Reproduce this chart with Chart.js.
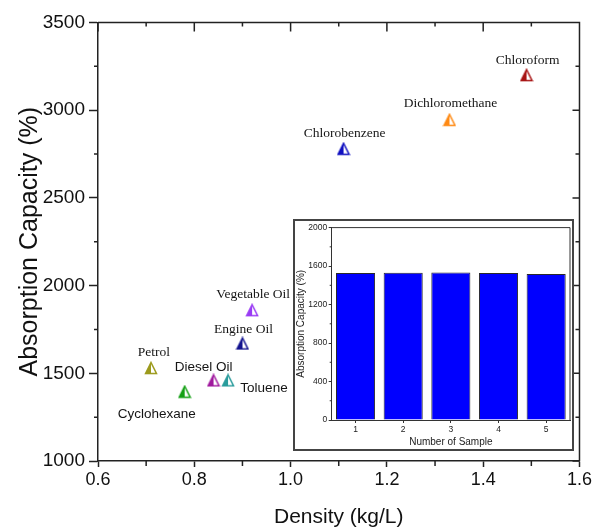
<!DOCTYPE html>
<html>
<head>
<meta charset="utf-8">
<title>Absorption capacity vs density</title>
<script src="https://cdn.jsdelivr.net/npm/chart.js@4.4.1/dist/chart.umd.min.js"></script>
<style>
  html, body { margin: 0; padding: 0; background: #fff; }
  #wrap { position: relative; width: 594px; height: 532px; }
  #mainChart { position: absolute; left: 0; top: 0; }
  #insetBox {
    position: absolute; left: 293px; top: 219px; width: 281px; height: 232px;
    box-sizing: border-box; border: 2px solid #444; background: #fff;
  }
  #insetChart { display: block; }
</style>
</head>
<body>
<div id="wrap">
  <canvas id="mainChart" width="594" height="532"></canvas>
  <div id="insetBox"><canvas id="insetChart" width="277" height="228"></canvas></div>
</div>
<script>
// Main plot data
const solvents = ['Petrol', 'Cyclohexane', 'Diesel Oil', 'Toluene', 'Engine Oil',
  'Vegetable Oil', 'Chlorobenzene', 'Dichloromethane', 'Chloroform'];
const density = [0.71, 0.78, 0.84, 0.87, 0.90, 0.92, 1.11, 1.33, 1.49];
const absorption = [1530, 1395, 1460, 1460, 1670, 1860, 2780, 2945, 3200];

const xTicks = [0.6, 0.8, 1.0, 1.2, 1.4, 1.6];
const xMinorTicks = [0.7, 0.9, 1.1, 1.3, 1.5];
const yTicks = [1000, 1500, 2000, 2500, 3000, 3500];
const yMinorTicks = [1250, 1750, 2250, 2750, 3250];

// Inset data
const samples = ['1', '2', '3', '4', '5'];
const sampleAbsorption = [1528, 1531, 1534, 1527, 1517];
const insetYTicks = [0, 400, 800, 1200, 1600, 2000];
const insetYMinorTicks = [200, 600, 1000, 1400, 1800];

// styles
const markerColors = ['#9c9a1c', '#14a014', '#a0189e', '#2a9c9c', '#12128e',
  '#9a3cf4', '#1010c0', '#ff8a14', '#a81414'];
const SERIF = '13.5px "Times New Roman", "Liberation Serif", serif';
const SANS = '13.5px Arial, "Liberation Sans", sans-serif';
const labelFonts = [SERIF, SANS, SANS, SANS, SERIF, SERIF, SERIF, SERIF, SERIF];
const labelOffsets = [[3, -16], [-28, 23], [-10, -13], [36, 8], [1, -14],
  [1, -16], [1, -15], [1, -16], [1, -15]];

Chart.defaults.font.family = 'Arial, "Liberation Sans", sans-serif';
Chart.defaults.color = '#111';

// half filled triangle, left half solid
function halfTriangle(color) {
  const c = document.createElement('canvas');
  c.width = 14; c.height = 14;
  const g = c.getContext('2d');
  g.fillStyle = '#fff';
  g.beginPath(); g.moveTo(1.5, 12.5); g.lineTo(7, 1.5); g.lineTo(12.5, 12.5); g.closePath(); g.fill();
  g.fillStyle = color;
  g.beginPath(); g.moveTo(1.5, 12.5); g.lineTo(7, 1.5); g.lineTo(7, 12.5); g.closePath(); g.fill();
  g.strokeStyle = color; g.lineWidth = 1.5;
  g.beginPath(); g.moveTo(1.5, 12.5); g.lineTo(7, 1.5); g.lineTo(12.5, 12.5); g.closePath(); g.stroke();
  return c;
}
const markerImages = markerColors.map(halfTriangle);

// top/right axis lines plus minor ticks
const axisFrame = {
  id: 'axisFrame',
  afterDraw(chart) {
    const { ctx, chartArea: a, scales: { x, y } } = chart;
    ctx.save();
    ctx.strokeStyle = '#222';
    ctx.lineWidth = 1.5;
    ctx.beginPath();
    ctx.moveTo(a.left, a.top); ctx.lineTo(a.right, a.top); ctx.lineTo(a.right, a.bottom);
    xTicks.forEach(v => {
      const px = x.getPixelForValue(v);
      ctx.moveTo(px, a.top); ctx.lineTo(px, a.top + 9);
    });
    xMinorTicks.forEach(v => {
      const px = x.getPixelForValue(v);
      ctx.moveTo(px, a.top); ctx.lineTo(px, a.top + 4);
      ctx.moveTo(px, a.bottom); ctx.lineTo(px, a.bottom + 5);
    });
    yTicks.forEach(v => {
      const py = y.getPixelForValue(v);
      ctx.moveTo(a.right, py); ctx.lineTo(a.right - 7, py);
    });
    yMinorTicks.forEach(v => {
      const py = y.getPixelForValue(v);
      ctx.moveTo(a.right, py); ctx.lineTo(a.right - 4, py);
      ctx.moveTo(a.left, py); ctx.lineTo(a.left - 4, py);
    });
    ctx.stroke();
    ctx.restore();
  }
};

const pointLabels = {
  id: 'pointLabels',
  afterDatasetsDraw(chart) {
    const { ctx } = chart;
    const pts = chart.getDatasetMeta(0).data;
    ctx.save();
    ctx.fillStyle = '#151515';
    ctx.textAlign = 'center';
    ctx.textBaseline = 'middle';
    pts.forEach((p, i) => {
      ctx.font = labelFonts[i];
      ctx.fillText(solvents[i], p.x + labelOffsets[i][0], p.y + labelOffsets[i][1]);
    });
    ctx.restore();
  }
};

new Chart(document.getElementById('mainChart'), {
  type: 'scatter',
  data: {
    datasets: [{
      data: density.map((d, i) => ({ x: d, y: absorption[i] })),
      pointStyle: ctx => markerImages[ctx.dataIndex],
      pointRadius: 6
    }]
  },
  options: {
    responsive: false,
    animation: false,
    layout: { padding: { top: 22.5, right: 14, left: 0, bottom: 0 } },
    plugins: { legend: { display: false }, tooltip: { enabled: false } },
    scales: {
      x: {
        type: 'linear', position: 'bottom', min: 0.6, max: 1.6,
        afterBuildTicks: s => { s.ticks = xTicks.map(v => ({ value: v })); },
        afterFit: s => { s.height = 71; },
        ticks: { callback: v => v.toFixed(1), font: { size: 18 }, padding: 2, maxRotation: 0, autoSkip: false },
        grid: { drawOnChartArea: false, tickLength: 6, tickColor: '#222', tickWidth: 1.5 },
        border: { color: '#222', width: 1.5 },
        title: { display: true, text: 'Density (kg/L)', font: { size: 21 }, padding: { top: 0, bottom: 2 } }
      },
      y: {
        min: 1000, max: 3500,
        afterBuildTicks: s => { s.ticks = yTicks.map(v => ({ value: v })); },
        afterFit: s => { s.width = 98; },
        ticks: { callback: v => String(v), font: { size: 19 }, padding: 4 },
        grid: { drawOnChartArea: false, tickLength: 9, tickColor: '#222', tickWidth: 1.5 },
        border: { color: '#222', width: 1.5 },
        title: { display: true, text: 'Absorption Capacity (%)', font: { size: 25 }, padding: { top: 15, bottom: 0 } }
      }
    }
  },
  plugins: [axisFrame, pointLabels]
});

// inset box and minor ticks
const insetFrame = {
  id: 'insetFrame',
  afterDraw(chart) {
    const { ctx, chartArea: a, scales: { y } } = chart;
    ctx.save();
    ctx.strokeStyle = '#333';
    ctx.lineWidth = 1;
    ctx.beginPath();
    ctx.moveTo(a.left, a.top); ctx.lineTo(a.right, a.top); ctx.lineTo(a.right, a.bottom);
    insetYMinorTicks.forEach(v => {
      const py = y.getPixelForValue(v);
      ctx.moveTo(a.left, py); ctx.lineTo(a.left - 2, py);
    });
    ctx.stroke();
    ctx.restore();
  }
};

new Chart(document.getElementById('insetChart'), {
  type: 'bar',
  data: {
    labels: samples,
    datasets: [{
      data: sampleAbsorption,
      backgroundColor: '#0000ff',
      borderColor: '#2a2a2a',
      borderWidth: 1,
      barPercentage: 0.82,
      categoryPercentage: 1
    }]
  },
  options: {
    responsive: false,
    animation: false,
    layout: { padding: { top: 5.7, right: 2, left: 0, bottom: 0 } },
    plugins: { legend: { display: false }, tooltip: { enabled: false } },
    scales: {
      x: {
        afterFit: s => { s.height = 29; },
        ticks: { font: { size: 8.5 }, color: '#222', padding: 2 },
        grid: { drawOnChartArea: false, offset: false, tickLength: 3, tickColor: '#333' },
        border: { color: '#333', width: 1 },
        title: { display: true, text: 'Number of Sample', font: { size: 10 }, color: '#222', padding: { top: 0, bottom: 0.5 } }
      },
      y: {
        min: 0, max: 2000,
        afterBuildTicks: s => { s.ticks = insetYTicks.map(v => ({ value: v })); },
        afterFit: s => { s.width = 36.7; },
        ticks: { callback: v => String(v), font: { size: 8.5 }, color: '#222', padding: 1.5 },
        grid: { drawOnChartArea: false, tickLength: 3, tickColor: '#333' },
        border: { color: '#333', width: 1 },
        title: { display: true, text: 'Absorption Capacity (%)', font: { size: 10 }, color: '#222', padding: { top: 0, bottom: 0 } }
      }
    }
  },
  plugins: [insetFrame]
});
</script>
</body>
</html>
